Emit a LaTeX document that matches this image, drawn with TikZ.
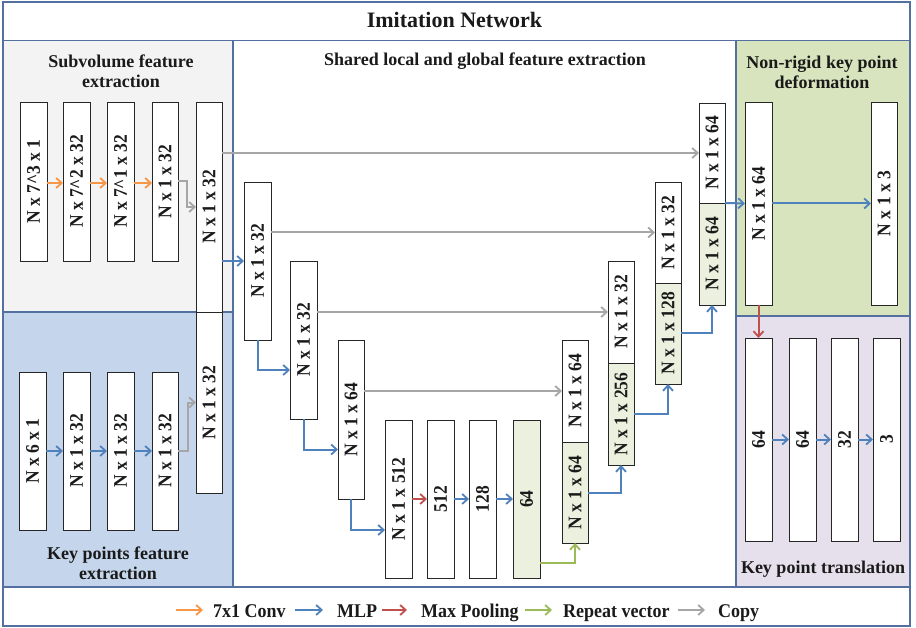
\documentclass[tikz,border=0pt]{standalone}
\usepackage{fontspec}
\setmainfont{Liberation Serif}
\usepackage{graphicx}
\usetikzlibrary{arrows.meta,calc}
\definecolor{pborder}{RGB}{84,112,160}
\definecolor{fillgray}{RGB}{243,243,243}
\definecolor{fillblue}{RGB}{197,214,236}
\definecolor{fillgreen}{RGB}{215,228,189}
\definecolor{fillpurple}{RGB}{229,224,236}
\definecolor{boxgreen}{RGB}{235,241,222}
\definecolor{aorange}{RGB}{247,150,70}
\definecolor{ablue}{RGB}{79,129,189}
\definecolor{ared}{RGB}{192,80,77}
\definecolor{agreen}{RGB}{155,187,89}
\definecolor{agray}{RGB}{166,166,166}
\definecolor{txt}{RGB}{26,26,26}
\newcommand{\vt}[1]{\rotatebox{90}{\scalebox{1}[1.1]{#1}}}
\newcommand{\tl}[1]{\scalebox{1}[1.08]{#1}}
% style, name, x1, y1, x2, y2, text
\newcommand{\bxnode}[7]{\node[#1, minimum width={(#5-#3)*1pt}, minimum height={(#6-#4)*1pt}] (#2) at ({(#3+#5)/2},{(#4+#6)/2}) {\vt{#7}};}
\begin{document}
\begin{tikzpicture}[x=1pt,y=-1pt,
  bx/.style={draw=black!85, line width=0.8pt, fill=white, inner sep=0pt, outer sep=0pt, text=txt,
    font=\fontsize{17.5}{20}\selectfont\bfseries},
  gbx/.style={bx, fill=boxgreen},
  hdr/.style={inner sep=0pt, text=txt, align=center, font=\fontsize{18}{20}\selectfont\bfseries},
  ttl/.style={inner sep=0pt, text=txt, font=\fontsize{22}{24}\selectfont\bfseries},
  lgd/.style={inner sep=0pt, text=txt, font=\fontsize{18}{20}\selectfont\bfseries},
  pline/.style={draw=pborder, line width=1.5pt},
  arr/.style={line width=2pt, -{Straight Barb[length=5.5pt,width=10pt,line width=1.8pt]}},
  conv/.style={arr, draw=aorange},
  mlp/.style={arr, draw=ablue},
  pool/.style={arr, draw=ared},
  rep/.style={arr, draw=agreen},
  cpy/.style={arr, draw=agray},
]
\useasboundingbox (0,0) rectangle (916,628);
% panels
\fill[white] (3,2) rectangle (910,626);
\fill[fillgray] (3,40.5) rectangle (233,312);
\fill[fillblue] (3,312) rectangle (233,587);
\fill[fillgreen] (736,40.5) rectangle (910,316);
\fill[fillpurple] (736,316) rectangle (910,587);
\draw[pline] (3,2) rectangle (910,626);
\draw[pline] (3,40.5) -- (910,40.5);
\draw[pline] (3,587) -- (910,587);
\draw[pline] (233,40.5) -- (233,587);
\draw[pline] (736,40.5) -- (736,587);
\draw[pline] (3,312) -- (233,312);
\draw[pline] (736,316) -- (910,316);
% titles
\node[ttl, anchor=base] (title) at (454.5,28) {Imitation Network};
\node[hdr] (hsub) at (121,71) {Subvolume feature\\extraction};
\node[hdr] (hkey) at (118,563) {Key points feature\\extraction};
\node[hdr, anchor=base] (hshared) at (485,66) {Shared local and global feature extraction};
\node[hdr] (hnon) at (822,72) {Non-rigid key point\\deformation};
\node[hdr, anchor=base] (htrans) at (823,573) {Key point translation};
% subvolume boxes
\bxnode{bx}{s1}{20}{102}{47}{261}{N x 7\textasciicircum3 x 1}
\bxnode{bx}{s2}{63}{102}{90}{261}{N x 7\textasciicircum2 x 32}
\bxnode{bx}{s3}{107}{102}{134}{261}{N x 7\textasciicircum1 x 32}
\bxnode{bx}{s4}{152}{102}{178}{261}{N x 1 x 32}
\bxnode{bx}{c1}{196}{102}{222}{312}{N x 1 x 32}
\bxnode{bx}{c2}{196}{312}{222}{493}{N x 1 x 32}
% key point boxes
\bxnode{bx}{k1}{19}{372}{46}{530}{N x 6 x 1}
\bxnode{bx}{k2}{63}{372}{90}{530}{N x 1 x 32}
\bxnode{bx}{k3}{107}{372}{134}{530}{N x 1 x 32}
\bxnode{bx}{k4}{152}{372}{178}{530}{N x 1 x 32}
% encoder
\bxnode{bx}{eA}{244}{182}{271}{340}{N x 1 x 32}
\bxnode{bx}{eB}{290}{261}{317}{419}{N x 1 x 32}
\bxnode{bx}{eC}{338}{340}{364}{499}{N x 1 x 64}
\bxnode{bx}{eE}{385}{420}{412}{578}{N x 1 x 512}
\bxnode{bx}{eF}{427}{420}{454}{578}{512}
\bxnode{bx}{eG}{469}{420}{496}{578}{128}
\bxnode{gbx}{eH}{513}{420}{540}{578}{64}
% decoder
\bxnode{bx}{d1t}{562}{340}{588}{442}{N x 1 x 64}
\bxnode{gbx}{d1b}{562}{442}{588}{543}{N x 1 x 64}
\bxnode{bx}{d2t}{608}{261}{634}{363}{N x 1 x 32}
\bxnode{gbx}{d2b}{608}{363}{634}{465}{N x 1 x 256}
\bxnode{bx}{d3t}{655}{182}{681}{283}{N x 1 x 32}
\bxnode{gbx}{d3b}{655}{283}{681}{384}{N x 1 x 128}
\bxnode{bx}{d4t}{699}{103}{725}{203}{N x 1 x 64}
\bxnode{gbx}{d4b}{699}{203}{725}{305}{N x 1 x 64}
% right
\bxnode{bx}{r1}{745}{102}{772}{305}{N x 1 x 64}
\bxnode{bx}{r2}{871}{102}{897}{305}{N x 1 x 3}
\bxnode{bx}{t1}{745}{338}{772}{541}{64}
\bxnode{bx}{t2}{789}{338}{816}{541}{64}
\bxnode{bx}{t3}{831}{338}{858}{541}{32}
\bxnode{bx}{t4}{873}{338}{900}{541}{3}
% connectors: subvolume
\draw[conv] ([yshift=-1.5pt]s1.east) -- ([yshift=-1.5pt]s2.west);
\draw[conv] ([yshift=-1.5pt]s2.east) -- ([yshift=-1.5pt]s3.west);
\draw[conv] ([yshift=-1.5pt]s3.east) -- ([yshift=-1.5pt]s4.west);
\draw[cpy] (s4.east) -- ++(9,0) |- (c1.west);
% key points
\draw[mlp] (k1.east) -- (k2.west);
\draw[mlp] (k2.east) -- (k3.west);
\draw[mlp] (k3.east) -- (k4.west);
\draw[cpy] (k4.east) -- ++(10,0) |- (c2.west);
% encoder
\draw[mlp] (c1.east |- eA.west) -- (eA.west);
\draw[mlp] (eA.south) |- ([yshift=-30pt]eB.west);
\draw[mlp] (eB.south) |- ([yshift=-30pt]eC.west);
\draw[mlp] (eC.south) |- ([yshift=-31pt]eE.west);
\draw[pool] (eE.east) -- (eF.west);
\draw[mlp] (eF.east) -- (eG.west);
\draw[mlp] (eG.east) -- (eH.west);
\draw[rep] ([yshift=15pt]eH.south east) -| (d1b.south);
% copies
\draw[cpy] (c1.east |- d4t.west) -- (d4t.west);
\draw[cpy] (eA.east |- d3t.west) -- (d3t.west);
\draw[cpy] (eB.east |- d2t.west) -- (d2t.west);
\draw[cpy] (eC.east |- d1t.west) -- (d1t.west);
% decoder
\draw[mlp] (d1b.east) -| (d2b.south);
\draw[mlp] (d2b.east) -| (d3b.south);
\draw[mlp] (d3b.east) -| (d4b.south);
\draw[mlp] (d4b.north east) -- (r1.west);
% right
\draw[mlp] (r1.east) -- (r2.west);
\draw[pool] (r1.south) -- (t1.north);
\draw[mlp] (t1.east) -- (t2.west);
\draw[mlp] (t2.east) -- (t3.west);
\draw[mlp] (t3.east) -- (t4.west);
% legend
\coordinate (lo1) at (176,610); \coordinate (lo2) at (203,610);
\coordinate (lb1) at (295,610); \coordinate (lb2) at (323,610);
\coordinate (lr1) at (382,610); \coordinate (lr2) at (407,610);
\coordinate (lg1) at (525,610); \coordinate (lg2) at (552,610);
\coordinate (ly1) at (678,610); \coordinate (ly2) at (705,610);
\draw[conv] (lo1) -- (lo2);
\draw[mlp] (lb1) -- (lb2);
\draw[pool] (lr1) -- (lr2);
\draw[rep] (lg1) -- (lg2);
\draw[cpy] (ly1) -- (ly2);
\node[lgd, anchor=base west] (tconv) at (213,617) {\tl{7x1 Conv}};
\node[lgd, anchor=base west] (tmlp) at (337,617) {\tl{MLP}};
\node[lgd, anchor=base west] (tpool) at (421,617) {\tl{Max Pooling}};
\node[lgd, anchor=base west] (trep) at (563,617) {\tl{Repeat vector}};
\node[lgd, anchor=base west] (tcopy) at (718,617) {\tl{Copy}};
\end{tikzpicture}
\end{document}
